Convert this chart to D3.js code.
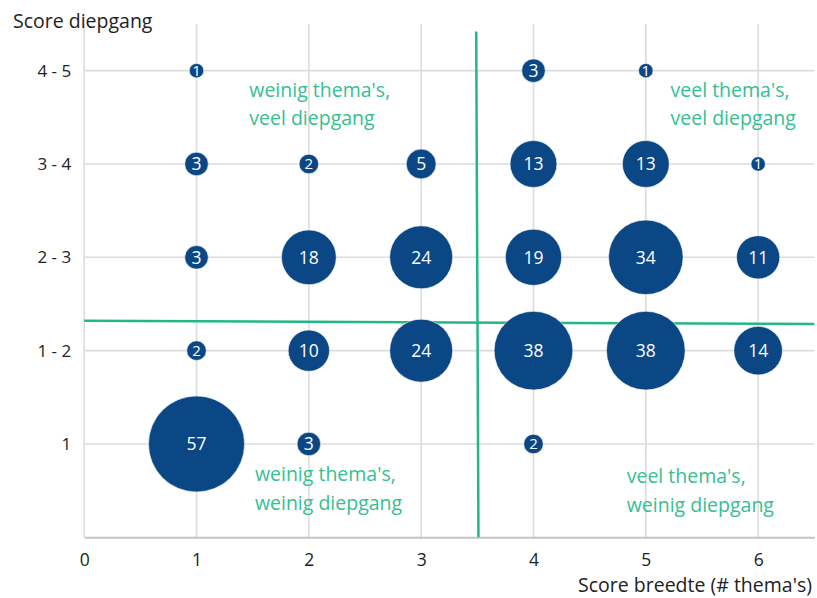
<!DOCTYPE html>
<html><head><meta charset="utf-8">
<script src="https://cdn.jsdelivr.net/npm/d3@7"></script>
<style>body{margin:0;background:#fff}svg{display:block;font-family:"Open Sans",Lato,sans-serif}</style>
</head><body><svg id="c" width="817" height="598"></svg>
<script>
const xTicks = [0,1,2,3,4,5,6];
const yCategories = ["1","1 - 2","2 - 3","3 - 4","4 - 5"];
// bubble data: breedte score, diepgang category index (1..5), count
const bubbleX = [1,4,5, 1,2,3,4,5,6, 1,2,3,4,5,6, 1,2,3,4,5,6, 1,2,4];
const bubbleY = [5,5,5, 4,4,4,4,4,4, 3,3,3,3,3,3, 2,2,2,2,2,2, 1,1,1];
const bubbleN = [1,3,1, 3,2,5,13,13,1, 3,18,24,19,34,11, 2,10,24,38,38,14, 57,3,2];
const quadrantLabels = [["weinig thema's,","veel diepgang"],["veel thema's,","veel diepgang"],["weinig thema's,","weinig diepgang"],["veel thema's,","weinig diepgang"]];
const quadrantPos = [[1.47,4.72],[5.22,4.72],[1.52,0.6],[4.83,0.58]];
const dividerV = [[3.49,5.42],[3.51,0]];
const dividerH = [[0,2.32],[6.5,2.285]];

const svg = d3.select("#c");
const x = d3.scaleLinear().domain([0,6.5]).range([84.2,814.3]);
const y = d3.scaleLinear().domain([0,5.5]).range([537.3,24]);
const r = d3.scaleSqrt().domain([0,57]).range([0,47]);
const grid = "#dcdcdc", green = "#22b886", blue = "#0b4785";
const font = "'Open Sans'";

// gridlines
svg.append("g").selectAll("line").data(d3.range(1,7)).join("line")
  .attr("x1",d=>x(d)).attr("x2",d=>x(d)).attr("y1",y(5.5)).attr("y2",y(0))
  .attr("stroke",grid).attr("stroke-width",1.6);
svg.append("g").selectAll("line").data(d3.range(1,6)).join("line")
  .attr("x1",x(0)).attr("x2",x(6.5)).attr("y1",d=>y(d)).attr("y2",d=>y(d))
  .attr("stroke",grid).attr("stroke-width",1.6);
// y axis line
svg.append("line").attr("x1",x(0)).attr("x2",x(0)).attr("y1",y(5.5)).attr("y2",y(0)).attr("stroke",grid).attr("stroke-width",1.6);

// x axis
const xa = svg.append("g").attr("transform",`translate(0,${y(0)})`)
  .call(d3.axisBottom(x).tickValues(xTicks).tickFormat(d3.format("d")).tickSize(0).tickPadding(16));
xa.select(".domain").attr("stroke","#c4c4c4").attr("stroke-width",2);
xa.selectAll("text").attr("font-size",17.5).attr("fill","#222").attr("font-family",font);
// y axis
const ya = svg.append("g").attr("transform",`translate(${x(0)},0)`)
  .call(d3.axisLeft(y).tickValues([1,2,3,4,5]).tickFormat(d=>yCategories[d-1]).tickSize(0).tickPadding(13));
ya.select(".domain").remove();
ya.selectAll("text").attr("font-size",17).attr("fill","#222").attr("font-family",font);

// axis titles
svg.append("text").attr("x",13).attr("y",28).attr("font-size",19.5).attr("fill","#222").text("Score diepgang");
svg.append("text").attr("x",812).attr("y",591.5).attr("text-anchor","end").attr("font-size",19.5).attr("fill","#222").text("Score breedte (# thema's)");

// divider lines
const line = d3.line().x(d=>x(d[0])).y(d=>y(d[1]));
svg.append("path").attr("d",line(dividerV)).attr("stroke",green).attr("stroke-width",2.5).attr("fill","none");
svg.append("path").attr("d",line(dividerH)).attr("stroke",green).attr("stroke-width",2.5).attr("fill","none");

// bubbles
const data = bubbleN.map((n,i)=>({x:bubbleX[i],y:bubbleY[i],n}));
const g = svg.append("g");
g.selectAll("circle").data(data).join("circle")
  .attr("cx",d=>x(d.x)).attr("cy",d=>y(d.y)).attr("r",d=>r(d.n)+1)
  .attr("fill",blue).attr("stroke","#fff").attr("stroke-width",0.6);
g.selectAll("text").data(data).join("text")
  .attr("x",d=>x(d.x)).attr("y",d=>y(d.y)).attr("dy","0.36em")
  .attr("text-anchor","middle").attr("fill","#fff").attr("font-size",d=>d.n<3?15:17.5)
  .text(d=>d.n);

// quadrant labels
quadrantLabels.forEach((lines,i)=>{
  const t = svg.append("text").attr("x",x(quadrantPos[i][0])).attr("y",y(quadrantPos[i][1]))
    .attr("fill","#35c08f").attr("font-size",19.5);
  lines.forEach((s,j)=>t.append("tspan").attr("x",x(quadrantPos[i][0])).attr("dy",j?28.5:0).text(s));
});
</script></body></html>
